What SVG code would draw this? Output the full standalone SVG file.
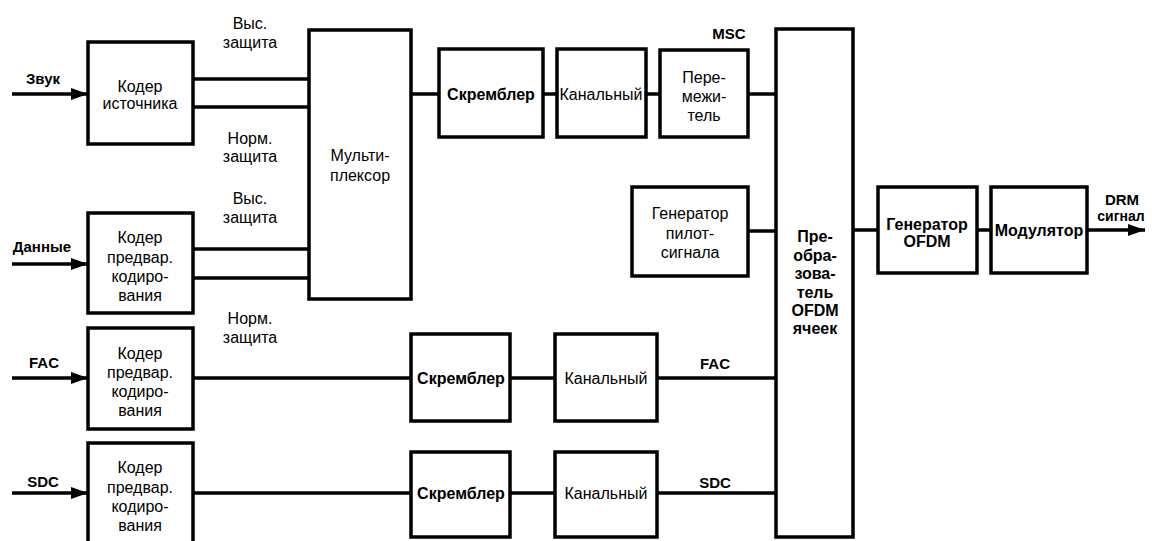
<svg xmlns="http://www.w3.org/2000/svg" width="1152" height="541" viewBox="0 0 1152 541">
<style>
.box{fill:#fff;stroke:#000;stroke-width:3.5}
.ln{fill:none;stroke:#000;stroke-width:3.5}
text{font-family:"Liberation Sans",Arial,sans-serif;font-size:16px;fill:#000;text-anchor:middle}
.b{font-weight:bold}
.s{font-size:15px;font-weight:bold}
</style>
<defs>
<marker id="ah" markerUnits="userSpaceOnUse" markerWidth="18" markerHeight="12" refX="17" refY="6" orient="auto">
<path d="M0,0 L17,6 L0,12 Z" fill="#000"/>
</marker>
</defs>
<rect width="1152" height="541" fill="#fff"/>
<g id="connectors">
<line class="ln" x1="12" y1="94" x2="88" y2="94" marker-end="url(#ah)"/>
<line class="ln" x1="193" y1="79" x2="309" y2="79"/>
<line class="ln" x1="193" y1="107" x2="309" y2="107"/>
<line class="ln" x1="12" y1="264" x2="88" y2="264" marker-end="url(#ah)"/>
<line class="ln" x1="193" y1="249" x2="309" y2="249"/>
<line class="ln" x1="193" y1="278" x2="309" y2="278"/>
<line class="ln" x1="411" y1="94" x2="439" y2="94"/>
<line class="ln" x1="543" y1="94" x2="557" y2="94"/>
<line class="ln" x1="646" y1="94" x2="660" y2="94"/>
<line class="ln" x1="748" y1="94" x2="776" y2="94"/>
<line class="ln" x1="748" y1="231" x2="776" y2="231"/>
<line class="ln" x1="12" y1="378" x2="88" y2="378" marker-end="url(#ah)"/>
<line class="ln" x1="193" y1="378" x2="411" y2="378"/>
<line class="ln" x1="510" y1="378" x2="555" y2="378"/>
<line class="ln" x1="657" y1="378" x2="776" y2="378"/>
<line class="ln" x1="12" y1="493" x2="88" y2="493" marker-end="url(#ah)"/>
<line class="ln" x1="193" y1="493" x2="411" y2="493"/>
<line class="ln" x1="510" y1="493" x2="555" y2="493"/>
<line class="ln" x1="657" y1="493" x2="776" y2="493"/>
<line class="ln" x1="853" y1="230" x2="878" y2="230"/>
<line class="ln" x1="977" y1="230" x2="991" y2="230"/>
<line class="ln" x1="1087" y1="230" x2="1145" y2="230" marker-end="url(#ah)"/>
</g>
<g id="labels">
<text class="s" x="43" y="84">Звук</text>
<text class="s" x="42" y="252">Данные</text>
<text class="s" x="44" y="368">FAC</text>
<text class="s" x="43" y="487">SDC</text>
<text x="250" y="29">Выс.</text>
<text x="250" y="48">защита</text>
<text x="250" y="144">Норм.</text>
<text x="250" y="162">защита</text>
<text x="250" y="204">Выс.</text>
<text x="250" y="223">защита</text>
<text x="250" y="324">Норм.</text>
<text x="250" y="343">защита</text>
<text class="s" x="729" y="39">MSC</text>
<text class="s" x="715" y="369">FAC</text>
<text class="s" x="715" y="488">SDC</text>
<text class="s" x="1122" y="205">DRM</text>
<text class="b" x="1121" y="221" style="font-size:14px">сигнал</text>
</g>
<g id="src-coder">
<rect class="box" x="88" y="42" width="105" height="102"/>
<text x="140" y="92">Кодер</text>
<text x="140" y="109">источника</text>
</g>
<g id="data-coder">
<rect class="box" x="88" y="213" width="105" height="100"/>
<text x="140" y="243">Кодер</text>
<text x="140" y="263">предвар.</text>
<text x="140" y="282">кодиро-</text>
<text x="140" y="301">вания</text>
</g>
<g id="fac-coder">
<rect class="box" x="88" y="328" width="105" height="101"/>
<text x="140" y="359">Кодер</text>
<text x="140" y="378">предвар.</text>
<text x="140" y="397">кодиро-</text>
<text x="140" y="416">вания</text>
</g>
<g id="sdc-coder">
<rect class="box" x="88" y="443" width="105" height="102"/>
<text x="140" y="473">Кодер</text>
<text x="140" y="493">предвар.</text>
<text x="140" y="512">кодиро-</text>
<text x="140" y="531">вания</text>
</g>
<g id="mux">
<rect class="box" x="309" y="30" width="102" height="269"/>
<text x="360" y="161">Мульти-</text>
<text x="360" y="181">плексор</text>
</g>
<g id="msc-scrambler">
<rect class="box" x="439" y="49" width="104" height="88"/>
<text class="b" x="491" y="100">Скремблер</text>
</g>
<g id="msc-channel">
<rect class="box" x="557" y="49" width="89" height="88"/>
<text x="601" y="100">Канальный</text>
</g>
<g id="interleaver">
<rect class="box" x="660" y="50" width="88" height="87"/>
<text x="704" y="83">Пере-</text>
<text x="704" y="102">межи-</text>
<text x="704" y="121">тель</text>
</g>
<g id="pilot-gen">
<rect class="box" x="632" y="187" width="116" height="89"/>
<text x="690" y="219">Генератор</text>
<text x="690" y="239">пилот-</text>
<text x="690" y="258">сигнала</text>
</g>
<g id="fac-scrambler">
<rect class="box" x="411" y="334" width="99" height="87"/>
<text class="b" x="461" y="384">Скремблер</text>
</g>
<g id="fac-channel">
<rect class="box" x="555" y="334" width="102" height="87"/>
<text x="606" y="384">Канальный</text>
</g>
<g id="sdc-scrambler">
<rect class="box" x="411" y="452" width="99" height="85"/>
<text class="b" x="461" y="499">Скремблер</text>
</g>
<g id="sdc-channel">
<rect class="box" x="555" y="452" width="102" height="85"/>
<text x="606" y="499">Канальный</text>
</g>
<g id="cell-mapper">
<rect class="box" x="776" y="29" width="77" height="508"/>
<text class="b" x="815" y="242">Пре-</text>
<text class="b" x="815" y="261">обра-</text>
<text class="b" x="815" y="279">зова-</text>
<text class="b" x="815" y="298">тель</text>
<text class="b" x="815" y="316">OFDM</text>
<text class="b" x="815" y="334">ячеек</text>
</g>
<g id="ofdm-gen">
<rect class="box" x="878" y="187" width="99" height="86"/>
<text class="b" x="927" y="230">Генератор</text>
<text class="b" x="927" y="247">OFDM</text>
</g>
<g id="modulator">
<rect class="box" x="991" y="187" width="96" height="86"/>
<text class="b" x="1039" y="236">Модулятор</text>
</g>
</svg>
